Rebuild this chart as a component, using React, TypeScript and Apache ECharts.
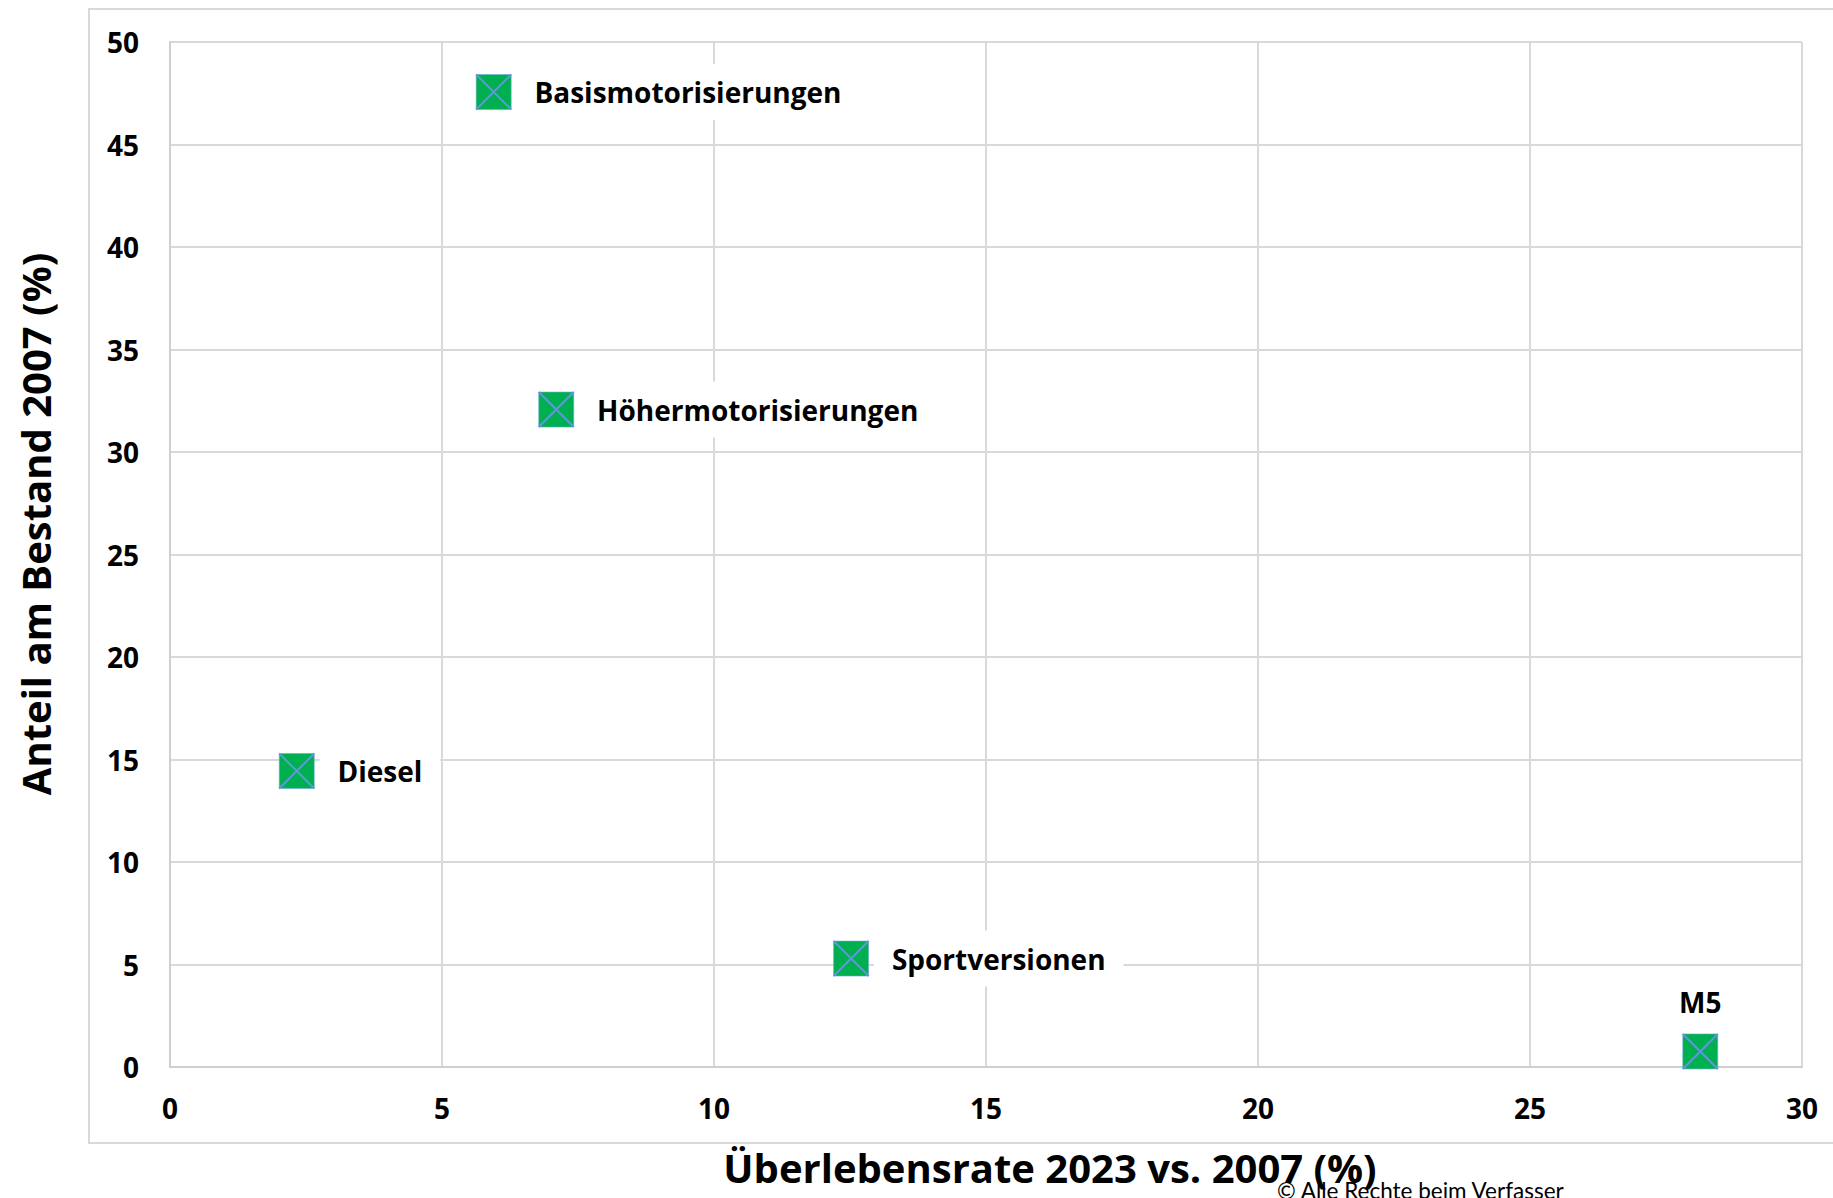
import React, { useEffect, useRef } from "react";
import * as echarts from "echarts";

const pointNames = ["Basismotorisierungen", "Höhermotorisierungen", "Diesel", "Sportversionen", "M5"];
const survivalRate = [5.95, 7.1, 2.33, 12.52, 28.13];
const shareOfStock = [47.56, 32.07, 14.44, 5.29, 0.76];
const labelAbove = ["M5"];

const xTitle = "Überlebensrate 2023 vs. 2007 (%)";
const yTitle = "Anteil am Bestand 2007 (%)";
const copyright = "© Alle Rechte beim Verfasser";

const FONT = "'Open Sans', Lato, sans-serif";
const FONT2 = "Lato, 'Open Sans', sans-serif";

export default function App() {
  const ref = useRef<HTMLDivElement>(null);
  useEffect(() => {
    if (!ref.current) return;
    const chart = echarts.init(ref.current, undefined, { renderer: "svg" });
    const data = pointNames.map((n, i) => {
      const d: any = { name: n, value: [survivalRate[i], shareOfStock[i]] };
      if (labelAbove.includes(n)) {
        d.label = { position: "top", distance: 18, backgroundColor: "transparent", padding: 0 };
      }
      return d;
    });
    chart.setOption({
      animation: false,
      backgroundColor: "#ffffff",
      grid: { left: 170, top: 42, right: 31, bottom: 131, containLabel: false },
      xAxis: {
        type: "value",
        min: 0,
        max: 30,
        interval: 5,
        axisLine: { show: true, lineStyle: { color: "#cfcfcf", width: 2 } },
        axisTick: { show: false },
        splitLine: { show: true, lineStyle: { color: "#d9d9d9", width: 2 } },
        axisLabel: { margin: 27, color: "#000", fontSize: 28, fontWeight: "bold", fontFamily: FONT },
      },
      yAxis: {
        type: "value",
        min: 0,
        max: 50,
        interval: 5,
        axisLine: { show: true, lineStyle: { color: "#cfcfcf", width: 2 } },
        axisTick: { show: false },
        splitLine: { show: true, lineStyle: { color: "#d9d9d9", width: 2 } },
        axisLabel: { margin: 31, color: "#000", fontSize: 28, fontWeight: "bold", fontFamily: FONT },
      },
      graphic: [
        {
          type: "rect",
          shape: { x: 89, y: 9, width: 1800, height: 1134 },
          style: { fill: "none", stroke: "#d9d9d9", lineWidth: 2 },
          z: -10,
          silent: true,
        },
        {
          type: "text",
          x: 1050,
          y: 1167,
          style: {
            text: xTitle,
            fontSize: 40,
            fontWeight: "bold",
            fontFamily: FONT,
            fill: "#000",
            align: "center",
            verticalAlign: "middle",
          },
          z: 10,
        },
        {
          type: "text",
          x: 35,
          y: 524,
          rotation: Math.PI / 2,
          style: {
            text: yTitle,
            fontSize: 40,
            fontWeight: "bold",
            fontFamily: FONT,
            fill: "#000",
            align: "center",
            verticalAlign: "middle",
          },
          z: 10,
        },
        {
          type: "text",
          x: 1277,
          y: 1202,
          style: {
            text: copyright,
            fontSize: 22.5,
            fontFamily: FONT2,
            fill: "#000",
            align: "left",
            verticalAlign: "bottom",
          },
          z: 20,
        },
      ],
      series: [
        {
          type: "scatter",
          symbol: "rect",
          symbolSize: 35,
          itemStyle: { color: "#00B050", opacity: 1, borderColor: "#6fa8dc", borderWidth: 0.6 },
          data,
          label: {
            show: true,
            position: "right",
            distance: 5,
            formatter: "{b}",
            color: "#000",
            fontSize: 28,
            fontWeight: "bold",
            fontFamily: FONT,
            backgroundColor: "#ffffff",
            padding: [14, 18],
          },
          z: 3,
        },
        {
          type: "scatter",
          symbol: "path://M0,0L10,10M10,0L0,10",
          symbolSize: 35,
          itemStyle: { color: "none", opacity: 1, borderColor: "#5B9BD5", borderWidth: 2 },
          data: pointNames.map((n, i) => [survivalRate[i], shareOfStock[i]]),
          z: 4,
        },
      ],
    });
    return () => chart.dispose();
  }, []);
  return (
    <div
      ref={ref}
      style={{ position: "fixed", left: 0, top: 0, width: 1833, height: 1198 }}
    />
  );
}
